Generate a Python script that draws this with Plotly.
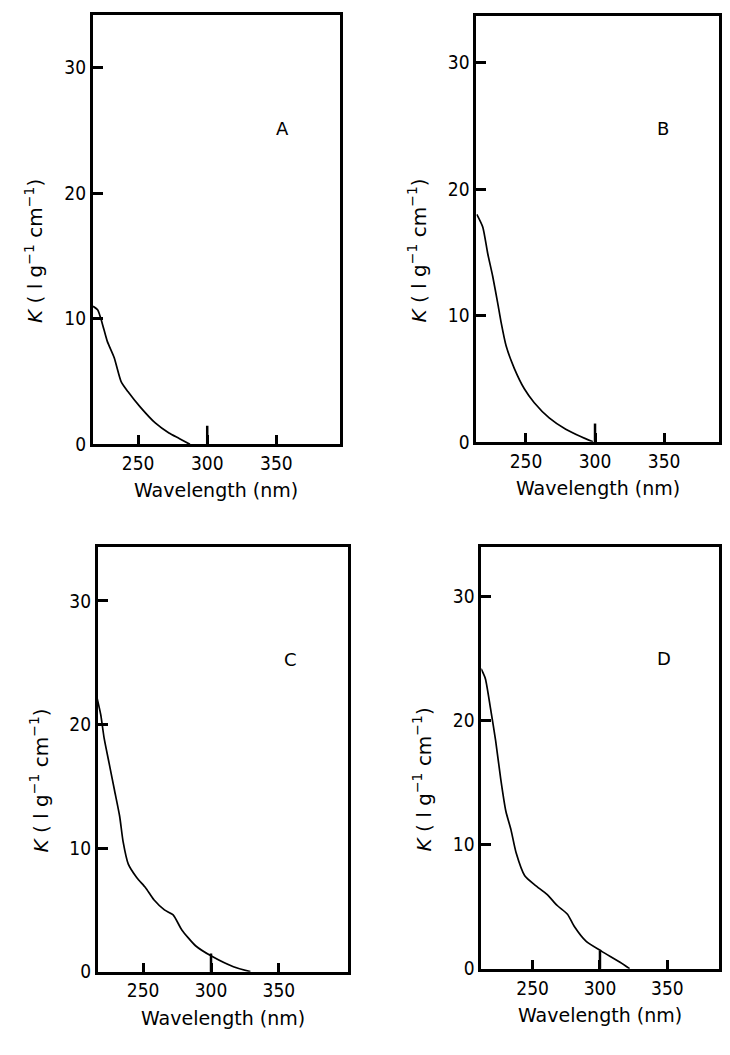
import plotly.graph_objects as go

# ---- data ----
wl_A = [217.4, 220.8, 224.0, 227.7, 232.7, 237.7, 242.6, 251.3, 262.4, 272.3, 280.0, 287.5]
k_A = [11.0, 10.7, 9.65, 8.2, 6.9, 5.0, 4.2, 3.0, 1.7, 0.9, 0.45, 0.0]

wl_B = [214.4, 218.7, 222.3, 225.9, 229.5, 232.0, 235.6, 241.6, 248.8, 256.0, 266.8, 278.8, 290.0, 298.5]
k_B = [18.0, 17.0, 14.9, 13.1, 11.0, 9.45, 7.6, 5.8, 4.2, 3.1, 1.9, 1.0, 0.4, 0.0]

wl_C = [216.2, 218.8, 221.3, 225.1, 228.9, 232.7, 235.3, 239.1, 245.4, 251.8,
        258.1, 265.7, 272.1, 278.4, 288.6, 301.3, 316.5, 329.0]
k_C = [22.1, 20.8, 18.9, 16.8, 14.7, 12.6, 10.5, 8.7, 7.6, 6.8,
       5.8, 5.0, 4.6, 3.4, 2.1, 1.2, 0.4, 0.0]

wl_D = [211.8, 215.0, 218.8, 222.6, 226.4, 230.2, 234.0, 237.8, 244.2, 251.8,
        260.7, 268.3, 275.9, 281.0, 289.8, 301.3, 315.2, 322.0]
k_D = [24.2, 23.4, 21.0, 18.4, 15.3, 12.7, 11.2, 9.35, 7.5, 6.75,
       6.0, 5.1, 4.4, 3.4, 2.2, 1.4, 0.5, 0.0]

panel_labels = ["A", "B", "C", "D"]
x_ticks = [250, 300, 350]
long_tick = 300
y_ticks = [0, 10, 20, 30]
x_title = "Wavelength (nm)"
y_title = "<i>K</i> ( l g<sup>−1</sup> cm<sup>−1</sup>)"

series = [(wl_A, k_A), (wl_B, k_B), (wl_C, k_C), (wl_D, k_D)]

# ---- layout geometry (window pixels; the page body has an 8px margin) ----
OFF = 8
W, H = 730 - 2 * OFF, 1055 - 2 * OFF
RIGHT_MAX = OFF + W - 2
boxes = [  # x0, x1, ytop, ybottom (window coordinates)
    (93, 340, 15, 449),
    (477, 723, 16, 446.5),
    (98, 348, 553, 982),
    (482, 727, 553, 979),
]
# pixel calibration of the wavelength axis: (px of 250 nm, px per nm)
x_cal = [(138.3, 1.384), (526.7, 1.383), (143.3, 1.36), (533.3, 1.35)]
y_tops = [34.2, 33.7, 34.35, 34.0]
FONT = "DejaVu Sans"
TICKFONT = "DejaVu Sans Condensed, DejaVu Sans"

fig = go.Figure()
layout = dict(
    width=W, height=H, margin=dict(l=0, r=0, t=0, b=0),
    paper_bgcolor="white", plot_bgcolor="white", showlegend=False,
    font=dict(family=FONT, color="black", size=18),
)
annotations = []
shapes = []
for i, ((xs, ys), (x0, x1, yt, yb)) in enumerate(zip(series, boxes)):
    x1 = min(x1, RIGHT_MAX)
    p250, ppn = x_cal[i]
    xr = [250 + (x0 - p250) / ppn, 250 + (x1 - p250) / ppn]
    x0, x1, yt, yb = x0 - OFF, x1 - OFF, yt - OFF, yb - OFF
    n = "" if i == 0 else str(i + 1)
    fig.add_trace(go.Scatter(
        x=xs, y=ys, mode="lines",
        line=dict(color="black", width=1.7, shape="spline", smoothing=0.6),
        xaxis="x" + n, yaxis="y" + n, hoverinfo="skip"))
    layout["xaxis" + n] = dict(
        domain=[x0 / W, x1 / W], anchor="y" + n, range=xr,
        tickvals=x_ticks, ticks="inside", ticklen=9, tickwidth=2.5, tickcolor="black",
        showline=True, mirror=True, linewidth=3, linecolor="black",
        showgrid=False, zeroline=False, tickfont=dict(size=19, family=TICKFONT),
    )
    layout["yaxis" + n] = dict(
        domain=[1 - yb / H, 1 - yt / H], anchor="x" + n, range=[0, y_tops[i]],
        tickvals=y_ticks, ticks="inside", ticklen=10, tickwidth=2.5, tickcolor="black",
        showline=True, mirror=True, linewidth=3, linecolor="black",
        showgrid=False, zeroline=False, tickfont=dict(size=19, family=TICKFONT),
    )
    # longer tick mark at 300 nm, as in the reference
    shapes.append(dict(
        type="line", xref="x" + n, yref="y" + n + " domain",
        x0=long_tick, x1=long_tick, y0=0, y1=0.043,
        line=dict(color="black", width=2.5)))
    # axis titles
    annotations.append(dict(
        text=x_title, xref="x" + n + " domain", yref="y" + n + " domain",
        x=0.5, y=0, yshift=-46, showarrow=False, font=dict(size=19, family=FONT),
        xanchor="center", yanchor="middle"))
    annotations.append(dict(
        text=y_title, xref="x" + n + " domain", yref="y" + n + " domain",
        x=0, y=0.45, xshift=-59, showarrow=False, textangle=-90,
        font=dict(size=20, family=FONT), xanchor="center", yanchor="middle"))
    annotations.append(dict(
        text=panel_labels[i], xref="x" + n + " domain", yref="y" + n + " domain",
        x=0.77, y=0.735, showarrow=False, font=dict(size=18, family=FONT),
        xanchor="center", yanchor="middle"))

layout["annotations"] = annotations
layout["shapes"] = shapes
fig.update_layout(**layout)
fig.write_html("out.html")
